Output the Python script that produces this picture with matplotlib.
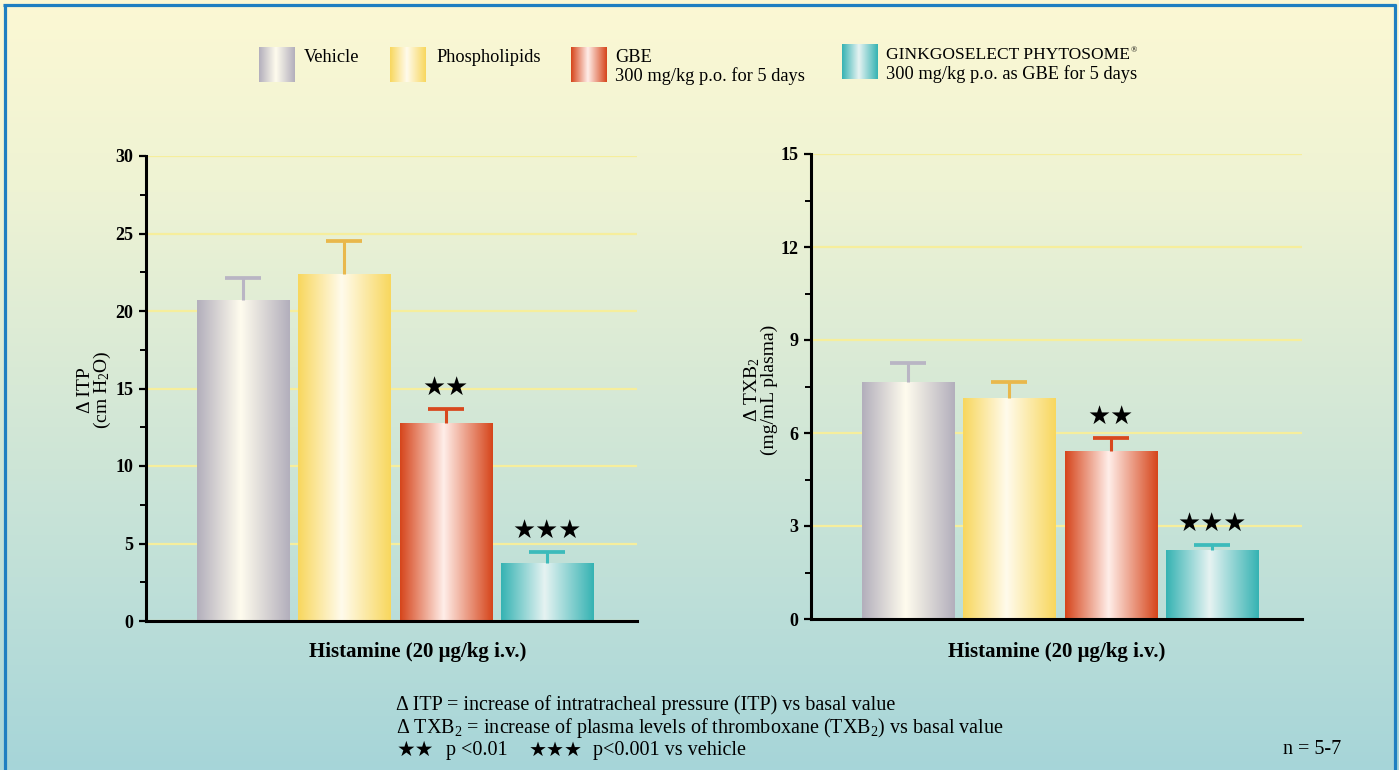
import numpy as np
import matplotlib
matplotlib.use('Agg')
import matplotlib.pyplot as plt
from matplotlib.colors import LinearSegmentedColormap
from matplotlib.ticker import MultipleLocator

plt.rcParams['font.family'] = ['Liberation Serif', 'DejaVu Sans']
plt.rcParams['mathtext.fontset'] = 'custom'
plt.rcParams['mathtext.rm'] = 'Liberation Serif'
plt.rcParams['mathtext.it'] = 'Liberation Serif:italic'
plt.rcParams['mathtext.bf'] = 'Liberation Serif:bold'

# ---------------- data ----------------
groups = ['Vehicle', 'Phospholipids', 'GBE', 'GINKGOSELECT PHYTOSOME']
itp_mean = [20.7, 22.4, 12.8, 3.75]
itp_err = [1.4, 2.1, 0.9, 0.7]
txb_mean = [7.65, 7.12, 5.42, 2.22]
txb_err = [0.6, 0.52, 0.43, 0.16]
sig_marks = ['', '', '★★', '★★★']
itp_ticks = [0, 5, 10, 15, 20, 25, 30]
txb_ticks = [0, 3, 6, 9, 12, 15]

# ---------------- styles ----------------
edge_cols = ['#B3AFBC', '#F8D75E', '#D6461C', '#36B3B3']
center_cols = ['#FFFCEE', '#FFFBEC', '#FFEEE9', '#E6F3F2']
err_cols = ['#B9B5C4', '#E9B84C', '#D8481E', '#3CBBBB']

W, H = 1399, 770
fig = plt.figure(figsize=(W / 100, H / 100), dpi=100)

# background
bg = fig.add_axes([0, 0, 1, 1], zorder=-10)
bg.axis('off')
bg_cmap = LinearSegmentedColormap.from_list(
    'bg', [(0, '#FCF8D3'), (0.25, '#EEF3D4'), (0.5, '#D7E9D6'),
           (0.75, '#C0E0D8'), (1.0, '#A6D5D9')])
grad = np.linspace(0, 1, 256).reshape(-1, 1)
bg.imshow(grad, cmap=bg_cmap, extent=[0, W, H, 0], aspect='auto', zorder=0)

# border
bcol = '#1F7FC1'
bg.plot([4.5, 4.5], [4, H], color=bcol, lw=2.3, solid_capstyle='butt', zorder=1)
bg.plot([1394.5, 1394.5], [4, H], color=bcol, lw=2.3, solid_capstyle='butt', zorder=1)
bg.plot([3, 1396], [4.5, 4.5], color=bcol, lw=2.3, solid_capstyle='butt', zorder=1)


def grad_cmap(edge, center):
    return LinearSegmentedColormap.from_list('g', [(0, edge), (0.47, center), (1, edge)])


row = np.linspace(0, 1, 200).reshape(1, -1)

# legend patches (positions in pixels)
leg_boxes = [(259, 47), (390, 47), (571, 47), (842, 44)]
for (lx, ly), e, c in zip(leg_boxes, edge_cols, center_cols):
    bg.imshow(row, cmap=grad_cmap(e, c), extent=[lx, lx + 36, ly + 35, ly],
              aspect='auto', zorder=2)
bg.set_xlim(0, W)
bg.set_ylim(H, 0)

lfs = 13.2
bg.text(304, 57, 'Vehicle', fontsize=lfs, va='center', ha='left')
bg.text(436, 57, 'Phospholipids', fontsize=lfs, va='center', ha='left')
bg.text(615, 57, 'GBE', fontsize=lfs, va='center', ha='left')
bg.text(615, 76, '300 mg/kg p.o. for 5 days', fontsize=lfs, va='center', ha='left')
bg.text(886, 55, 'GINKGOSELECT PHYTOSOME', fontsize=12.6, va='center', ha='left')
bg.text(1131, 50, '®', fontsize=6, va='center', ha='left')
bg.text(886, 74, '300 mg/kg p.o. as GBE for 5 days', fontsize=lfs, va='center', ha='left')


def draw_panel(rect, means, errs, ticks, minor, xlabel_x, ylabel, ylabel_x):
    ax = fig.add_axes(rect)
    ax.set_facecolor('none')
    x = np.arange(len(means))
    bars = ax.bar(x, means, width=0.91, color='none', edgecolor='none', zorder=2)
    for b, e, c in zip(bars, edge_cols, center_cols):
        im = ax.imshow(row, cmap=grad_cmap(e, c),
                       extent=[b.get_x(), b.get_x() + b.get_width(), 0, b.get_height()],
                       aspect='auto', zorder=2)
        im.set_clip_path(b)
    for xi, m, er, col, s in zip(x, means, errs, err_cols, sig_marks):
        ax.vlines(xi, m, m + er, colors=col, lw=2.2, zorder=3)
        ax.plot([xi], [m + er], marker='_', markersize=26.5, mew=2.7, color=col, zorder=3)
        if s:
            ax.annotate(s, xy=(xi, m + er), xytext=(0, 15), textcoords='offset points',
                        ha='center', va='center', fontsize=18.5,
                        family=['DejaVu Sans'], color='black', zorder=4)
    ax.set_xlim(-0.96, 3.89)
    ax.set_ylim(ticks[0], ticks[-1])
    ax.set_yticks(ticks)
    ax.yaxis.set_minor_locator(MultipleLocator(minor))
    ax.yaxis.grid(True, which='major', color='#F6EE9C', lw=1.6, zorder=0)
    ax.set_axisbelow(True)
    ax.set_xticks([])
    for sp in ['top', 'right']:
        ax.spines[sp].set_visible(False)
    for sp in ['left', 'bottom']:
        ax.spines[sp].set_linewidth(2.2)
        ax.spines[sp].set_color('black')
    ax.tick_params(axis='y', which='major', length=5, width=1.6, pad=4,
                   labelsize=13, direction='out')
    ax.tick_params(axis='y', which='minor', length=4, width=1.4, direction='out')
    for lab in ax.get_yticklabels():
        lab.set_fontweight('bold')
    fig.text(xlabel_x / W, 1 - 652 / H, 'Histamine (20 μg/kg i.v.)', fontsize=15,
             fontweight='bold', ha='center', va='center')
    fig.text(ylabel_x / W, 1 - 390 / H, ylabel, fontsize=14, rotation=90,
             ha='center', va='center', multialignment='center', linespacing=0.92)
    return ax


draw_panel([146 / W, 1 - 621 / H, (637 - 146) / W, (621 - 156) / H],
           itp_mean, itp_err, itp_ticks, 2.5, 418, 'Δ ITP\n(cm H$_2$O)', 95)
draw_panel([811 / W, 1 - 619 / H, (1302 - 811) / W, (619 - 154) / H],
           txb_mean, txb_err, txb_ticks, 1.5, 1057, 'Δ TXB$_2$\n(mg/mL plasma)', 760)

# footnotes
ffs = 14.5
fig.text(396 / W, 1 - 705 / H, 'Δ ITP = increase of intratracheal pressure (ITP) vs basal value',
         fontsize=ffs, ha='left', va='center')
fig.text(396 / W, 1 - 728 / H,
         'Δ TXB$_2$ = increase of plasma levels of thromboxane (TXB$_2$) vs basal value',
         fontsize=ffs, ha='left', va='center')
fig.text(397 / W, 1 - 750 / H, '★★', fontsize=15, family=['DejaVu Sans'], ha='left', va='center')
fig.text(446 / W, 1 - 750 / H, 'p <0.01', fontsize=ffs, ha='left', va='center')
fig.text(529 / W, 1 - 750 / H, '★★★', fontsize=14.5, family=['DejaVu Sans'], ha='left', va='center')
fig.text(593 / W, 1 - 750 / H, 'p<0.001 vs vehicle', fontsize=ffs, ha='left', va='center')
fig.text(1341 / W, 1 - 750 / H, 'n = 5-7', fontsize=ffs, ha='right', va='center')

fig.savefig('out.png', dpi=100)
